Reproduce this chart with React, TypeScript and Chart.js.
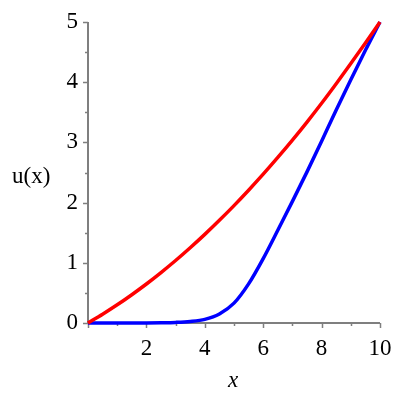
import React, { useEffect, useRef } from "react";
import { Chart, registerables } from "chart.js";

Chart.register(...registerables);

const xValues = [0, 0.5, 1, 1.5, 2, 2.5, 3, 3.5, 4, 4.5, 5, 5.5, 6, 6.5, 7, 7.5, 8, 8.5, 9, 9.5, 10];
const redU = [0, 0.146, 0.302, 0.47, 0.648, 0.838, 1.038, 1.25, 1.472, 1.706, 1.95, 2.206, 2.472, 2.75, 3.038, 3.338, 3.65, 3.975, 4.31, 4.65, 5.0];
const blueU = [0, 0, 0, 0, 0.001, 0.004, 0.01, 0.025, 0.06, 0.15, 0.33, 0.65, 1.07, 1.54, 2.02, 2.51, 3.02, 3.54, 4.04, 4.53, 5.0];
const xTickValues = [2, 4, 6, 8, 10];
const yTickValues = [0, 1, 2, 3, 4, 5];
const yAxisLabel = "u(x)";
const xAxisLabel = "x";

const FONT = "'Liberation Serif', 'Times New Roman', serif";

const axesPlugin = {
  id: "mapleAxes",
  beforeDatasetsDraw(chart: any) {
    const { ctx, chartArea, scales } = chart;
    const { left, right, top, bottom } = chartArea;
    const xs = scales.x;
    const ys = scales.y;
    ctx.save();
    ctx.strokeStyle = "#7f7f7f";
    ctx.lineWidth = 2;
    ctx.beginPath();
    ctx.moveTo(left, top);
    ctx.lineTo(left, bottom);
    ctx.lineTo(right, bottom);
    ctx.stroke();
    ctx.lineWidth = 1.5;
    ctx.beginPath();
    for (let v = 0; v <= 10; v += 1) {
      const px = Math.round(xs.getPixelForValue(v)) + 0.5;
      const len = v % 2 === 0 ? 5 : 3;
      ctx.moveTo(px, bottom);
      ctx.lineTo(px, bottom + len);
    }
    for (let v = 0; v <= 5; v += 0.5) {
      const py = Math.round(ys.getPixelForValue(v)) + 0.5;
      const len = Number.isInteger(v) ? 5 : 3;
      ctx.moveTo(left, py);
      ctx.lineTo(left - len, py);
    }
    ctx.stroke();
    ctx.restore();
  },
  afterDraw(chart: any) {
    const { ctx } = chart;
    ctx.save();
    ctx.fillStyle = "#000";
    ctx.textBaseline = "middle";
    ctx.textAlign = "left";
    ctx.font = `23px ${FONT}`;
    ctx.fillText(yAxisLabel, 12, 177);
    ctx.textAlign = "center";
    ctx.font = `italic 23px ${FONT}`;
    ctx.fillText(xAxisLabel, 233, 381);
    ctx.restore();
  },
};

export default function App() {
  const canvasRef = useRef<HTMLCanvasElement | null>(null);

  useEffect(() => {
    const canvas = canvasRef.current;
    if (!canvas) return;
    let chart: any = null;
    let cancelled = false;
    const build = () => {
      if (cancelled) return;
      const red = xValues.map((x, i) => ({ x, y: redU[i] }));
      const blue = xValues.map((x, i) => ({ x, y: blueU[i] }));
      chart = new Chart(canvas, {
        type: "line",
        data: {
          datasets: [
            {
              data: red,
              borderColor: "#ff0000",
              borderWidth: 3.5,
              pointRadius: 0,
              cubicInterpolationMode: "monotone",
              clip: 10,
            },
            {
              data: blue,
              borderColor: "#0000ff",
              borderWidth: 3.5,
              pointRadius: 0,
              cubicInterpolationMode: "monotone",
              clip: 10,
            },
          ],
        },
        plugins: [axesPlugin],
        options: {
          responsive: false,
          animation: false,
          layout: { padding: { top: 22, right: 20, left: 0, bottom: 0 } },
          plugins: { legend: { display: false }, tooltip: { enabled: false } },
          scales: {
            x: {
              type: "linear",
              min: 0,
              max: 10,
              border: { display: false },
              grid: { display: false, drawTicks: false },
              afterBuildTicks: (scale: any) => {
                scale.ticks = xTickValues.map((v) => ({ value: v }));
              },
              ticks: {
                padding: 12,
                color: "#000",
                maxRotation: 0,
                font: { family: FONT, size: 23 },
              },
              afterFit: (scale: any) => {
                scale.height = 77;
                scale.paddingLeft = 0;
                scale.paddingRight = 0;
              },
            },
            y: {
              type: "linear",
              min: 0,
              max: 5,
              border: { display: false },
              grid: { display: false, drawTicks: false },
              afterBuildTicks: (scale: any) => {
                scale.ticks = yTickValues.map((v) => ({ value: v }));
              },
              ticks: {
                padding: 10,
                color: "#000",
                font: { family: FONT, size: 23 },
              },
              afterFit: (scale: any) => {
                scale.width = 88;
                scale.paddingTop = 0;
                scale.paddingBottom = 0;
              },
            },
          },
        },
      } as any);
    };
    const fontsApi = (document as any).fonts;
    if (fontsApi && fontsApi.load) {
      Promise.all([
        fontsApi.load('23px "Liberation Serif"'),
        fontsApi.load('italic 23px "Liberation Serif"'),
      ])
        .catch(() => undefined)
        .then(build);
    } else {
      build();
    }
    return () => {
      cancelled = true;
      if (chart) chart.destroy();
    };
  }, []);

  return (
    <div style={{ position: "absolute", left: 0, top: 0, width: 400, height: 400, background: "#fff" }}>
      <canvas ref={canvasRef} width={400} height={400} />
    </div>
  );
}
